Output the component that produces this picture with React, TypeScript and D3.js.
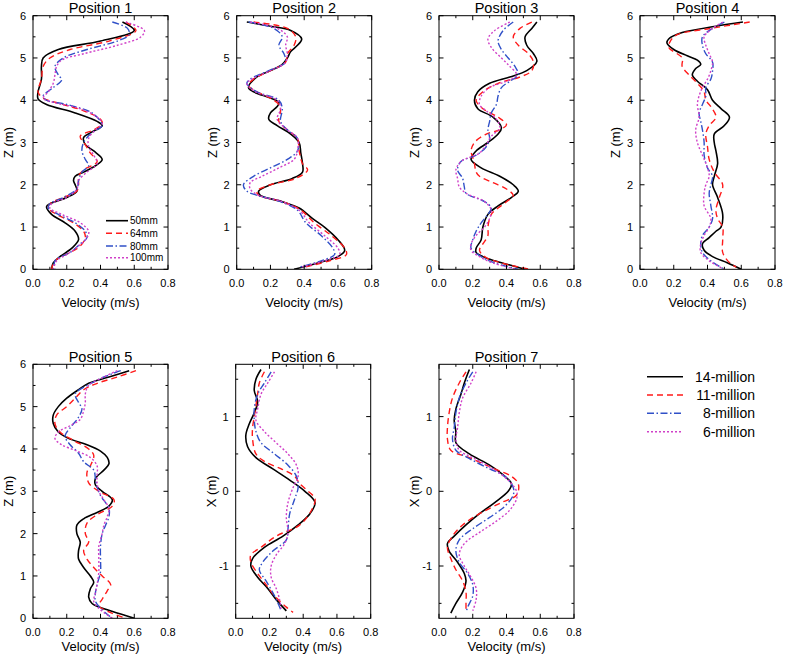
import React from "react";
import * as d3 from "d3";

// ---------- categories / labels ----------
const panelTitles = ["Position 1", "Position 2", "Position 3", "Position 4", "Position 5", "Position 6", "Position 7"];
const panelYLabels = ["Z (m)", "Z (m)", "Z (m)", "Z (m)", "Z (m)", "X (m)", "X (m)"];
const sizeLegend = ["50mm", "64mm", "80mm", "100mm"];
const meshLegend = ["14-million", "11-million", "8-million", "6-million"];
const xTicks = [0, 0.2, 0.4, 0.6, 0.8];
const xMinorTicks = [0.1, 0.3, 0.5, 0.7];
const zTicks = [0, 1, 2, 3, 4, 5, 6];
const zMinorTicks = [0.5, 1.5, 2.5, 3.5, 4.5, 5.5];
const xPosTicks = [-1, 0, 1];
const xPosMinorTicks = [-1.5, -0.5, 0.5, 1.5];

// ---------- data: [height, velocity] ----------
const p1_a = [[5.85,0.53],[5.65,0.6],[5.4,0.4],[5.2,0.15],[5.0,0.06],[4.8,0.05],[4.5,0.05],[4.2,0.03],[4.03,0.03],[3.9,0.08],[3.7,0.25],[3.5,0.38],[3.4,0.41],[3.25,0.35],[3.12,0.3],[2.95,0.31],[2.8,0.36],[2.6,0.41],[2.45,0.37],[2.3,0.3],[2.2,0.25],[2.1,0.24],[2.0,0.25],[1.85,0.26],[1.7,0.2],[1.55,0.1],[1.48,0.08],[1.3,0.11],[1.1,0.19],[0.9,0.25],[0.7,0.27],[0.5,0.23],[0.3,0.16],[0.15,0.12],[0,0.11]];
const p1_b = [[5.85,0.55],[5.65,0.61],[5.4,0.45],[5.2,0.22],[5.0,0.1],[4.8,0.06],[4.5,0.05],[4.2,0.03],[4.05,0.06],[3.9,0.18],[3.75,0.3],[3.55,0.4],[3.45,0.41],[3.3,0.36],[3.15,0.28],[2.95,0.31],[2.75,0.34],[2.55,0.38],[2.35,0.3],[2.2,0.27],[2.0,0.27],[1.85,0.26],[1.7,0.18],[1.55,0.1],[1.45,0.09],[1.3,0.14],[1.1,0.24],[0.9,0.3],[0.75,0.31],[0.55,0.28],[0.4,0.22],[0.2,0.13],[0,0.11]];
const p1_c = [[5.85,0.47],[5.7,0.56],[5.55,0.57],[5.4,0.5],[5.2,0.32],[5.0,0.18],[4.8,0.13],[4.6,0.15],[4.48,0.17],[4.3,0.12],[4.1,0.06],[4.0,0.08],[3.9,0.2],[3.7,0.35],[3.5,0.4],[3.4,0.41],[3.2,0.34],[3.0,0.3],[2.8,0.29],[2.6,0.31],[2.45,0.33],[2.3,0.29],[2.1,0.27],[1.9,0.26],[1.7,0.18],[1.55,0.1],[1.45,0.09],[1.3,0.15],[1.1,0.25],[0.9,0.31],[0.75,0.32],[0.6,0.28],[0.4,0.22],[0.2,0.13],[0,0.13]];
const p1_d = [[5.85,0.55],[5.65,0.66],[5.5,0.64],[5.3,0.5],[5.1,0.3],[4.95,0.17],[4.8,0.14],[4.6,0.13],[4.4,0.12],[4.2,0.09],[4.05,0.06],[3.95,0.12],[3.8,0.28],[3.6,0.38],[3.45,0.41],[3.3,0.37],[3.1,0.33],[2.9,0.33],[2.7,0.36],[2.5,0.38],[2.3,0.32],[2.1,0.27],[1.9,0.26],[1.7,0.2],[1.55,0.11],[1.45,0.1],[1.3,0.17],[1.1,0.28],[0.9,0.33],[0.75,0.32],[0.55,0.27],[0.35,0.2],[0.2,0.14],[0,0.12]];

const p2_a = [[5.85,0.06],[5.75,0.2],[5.65,0.32],[5.45,0.385],[5.3,0.36],[5.15,0.32],[5.0,0.3],[4.85,0.27],[4.7,0.2],[4.55,0.12],[4.3,0.07],[4.2,0.1],[4.05,0.2],[3.95,0.25],[3.85,0.24],[3.7,0.2],[3.55,0.19],[3.4,0.24],[3.2,0.32],[3.0,0.37],[2.75,0.38],[2.5,0.39],[2.3,0.39],[2.15,0.33],[2.0,0.2],[1.85,0.13],[1.75,0.14],[1.6,0.27],[1.45,0.37],[1.2,0.45],[1.0,0.52],[0.7,0.6],[0.45,0.64],[0.3,0.6],[0.15,0.48],[0,0.34]];
const p2_b = [[5.85,0.1],[5.7,0.3],[5.5,0.35],[5.3,0.34],[5.1,0.3],[4.9,0.29],[4.7,0.2],[4.5,0.1],[4.35,0.07],[4.2,0.12],[4.05,0.2],[3.9,0.25],[3.75,0.26],[3.5,0.25],[3.3,0.3],[3.1,0.36],[2.8,0.37],[2.5,0.39],[2.35,0.42],[2.15,0.35],[2.0,0.2],[1.85,0.12],[1.75,0.13],[1.6,0.27],[1.4,0.38],[1.1,0.46],[0.8,0.56],[0.5,0.64],[0.35,0.65],[0.2,0.55],[0.05,0.4]];
const p2_c = [[5.85,0.07],[5.7,0.22],[5.5,0.27],[5.3,0.25],[5.1,0.28],[4.9,0.29],[4.7,0.19],[4.5,0.08],[4.4,0.06],[4.2,0.12],[4.0,0.25],[3.8,0.27],[3.5,0.26],[3.3,0.3],[3.1,0.36],[2.8,0.36],[2.6,0.3],[2.4,0.2],[2.2,0.1],[2.0,0.04],[1.85,0.06],[1.75,0.12],[1.6,0.26],[1.4,0.36],[1.1,0.41],[0.8,0.5],[0.5,0.57],[0.35,0.58],[0.2,0.5],[0.05,0.37]];
const p2_d = [[5.85,0.08],[5.7,0.24],[5.5,0.3],[5.3,0.29],[5.1,0.3],[4.9,0.29],[4.7,0.2],[4.5,0.09],[4.4,0.06],[4.2,0.11],[4.0,0.24],[3.8,0.26],[3.55,0.24],[3.3,0.3],[3.1,0.36],[2.8,0.36],[2.6,0.34],[2.4,0.25],[2.2,0.15],[2.05,0.08],[1.9,0.08],[1.75,0.13],[1.6,0.27],[1.4,0.37],[1.1,0.43],[0.8,0.52],[0.5,0.6],[0.35,0.61],[0.2,0.52],[0.05,0.38]];

const p3_a = [[5.85,0.58],[5.7,0.55],[5.5,0.51],[5.3,0.52],[5.1,0.56],[4.92,0.58],[4.7,0.52],[4.55,0.42],[4.4,0.3],[4.2,0.23],[4.0,0.21],[3.8,0.23],[3.6,0.32],[3.35,0.37],[3.2,0.35],[3.0,0.29],[2.8,0.22],[2.6,0.19],[2.4,0.25],[2.2,0.36],[2.0,0.44],[1.85,0.47],[1.7,0.43],[1.5,0.35],[1.3,0.29],[1.0,0.26],[0.7,0.25],[0.5,0.22],[0.4,0.22],[0.3,0.26],[0.2,0.33],[0.1,0.42],[0,0.51]];
const p3_b = [[5.85,0.55],[5.7,0.48],[5.5,0.44],[5.3,0.47],[5.1,0.53],[4.9,0.56],[4.7,0.55],[4.55,0.48],[4.4,0.35],[4.2,0.26],[4.0,0.22],[3.8,0.26],[3.6,0.35],[3.42,0.4],[3.3,0.36],[3.2,0.28],[3.0,0.21],[2.8,0.19],[2.65,0.2],[2.5,0.21],[2.3,0.22],[2.2,0.24],[2.05,0.32],[1.9,0.4],[1.75,0.44],[1.6,0.4],[1.45,0.35],[1.3,0.31],[1.0,0.29],[0.8,0.29],[0.6,0.26],[0.45,0.24],[0.3,0.27],[0.15,0.37],[0,0.54]];
const p3_c = [[5.85,0.44],[5.65,0.38],[5.4,0.35],[5.2,0.37],[5.0,0.41],[4.8,0.45],[4.6,0.47],[4.45,0.42],[4.3,0.37],[4.1,0.35],[3.9,0.34],[3.7,0.31],[3.5,0.3],[3.3,0.29],[3.1,0.3],[2.9,0.28],[2.7,0.22],[2.55,0.13],[2.35,0.11],[2.15,0.14],[1.95,0.15],[1.8,0.16],[1.6,0.27],[1.45,0.31],[1.3,0.29],[1.1,0.25],[0.9,0.22],[0.7,0.2],[0.5,0.19],[0.3,0.25],[0.15,0.33],[0,0.47]];
const p3_d = [[5.85,0.42],[5.65,0.33],[5.45,0.29],[5.25,0.31],[5.0,0.37],[4.8,0.42],[4.6,0.46],[4.45,0.4],[4.3,0.3],[4.1,0.25],[3.9,0.24],[3.75,0.28],[3.55,0.34],[3.35,0.36],[3.15,0.31],[2.95,0.28],[2.75,0.24],[2.55,0.13],[2.35,0.1],[2.15,0.11],[1.95,0.12],[1.8,0.16],[1.6,0.27],[1.4,0.31],[1.2,0.3],[1.0,0.27],[0.8,0.22],[0.6,0.19],[0.45,0.19],[0.3,0.24],[0.15,0.32],[0,0.46]];

const p4_a = [[5.85,0.61],[5.75,0.45],[5.6,0.25],[5.45,0.17],[5.35,0.16],[5.2,0.2],[5.05,0.28],[4.95,0.34],[4.85,0.36],[4.75,0.33],[4.6,0.31],[4.45,0.34],[4.25,0.4],[4.0,0.43],[3.8,0.48],[3.6,0.53],[3.4,0.5],[3.2,0.44],[3.0,0.44],[2.8,0.45],[2.5,0.46],[2.2,0.44],[2.0,0.43],[1.7,0.46],[1.3,0.49],[1.0,0.48],[0.9,0.45],[0.75,0.41],[0.6,0.37],[0.45,0.38],[0.3,0.43],[0.15,0.52],[0,0.6]];
const p4_b = [[5.85,0.65],[5.7,0.42],[5.55,0.22],[5.4,0.18],[5.25,0.17],[5.0,0.25],[4.8,0.25],[4.6,0.29],[4.4,0.34],[4.2,0.38],[4.0,0.39],[3.85,0.42],[3.6,0.45],[3.4,0.41],[3.2,0.39],[2.9,0.4],[2.6,0.41],[2.3,0.44],[2.0,0.49],[1.7,0.47],[1.4,0.45],[1.2,0.46],[1.0,0.49],[0.7,0.49],[0.4,0.49],[0.2,0.52],[0.05,0.57]];
const p4_c = [[5.85,0.5],[5.7,0.43],[5.5,0.37],[5.3,0.37],[5.1,0.39],[4.9,0.43],[4.7,0.43],[4.5,0.42],[4.3,0.39],[4.1,0.39],[3.9,0.37],[3.7,0.35],[3.5,0.36],[3.3,0.37],[3.0,0.38],[2.7,0.38],[2.4,0.4],[2.2,0.43],[2.0,0.42],[1.8,0.41],[1.5,0.42],[1.2,0.43],[1.0,0.41],[0.8,0.37],[0.6,0.36],[0.4,0.37],[0.2,0.42],[0,0.5]];
const p4_d = [[5.85,0.49],[5.7,0.43],[5.5,0.38],[5.3,0.39],[5.1,0.41],[4.9,0.43],[4.7,0.42],[4.5,0.4],[4.3,0.37],[4.1,0.35],[3.9,0.34],[3.6,0.35],[3.3,0.33],[3.0,0.34],[2.7,0.37],[2.4,0.4],[2.2,0.41],[2.0,0.39],[1.8,0.38],[1.5,0.38],[1.2,0.42],[1.0,0.41],[0.8,0.38],[0.6,0.36],[0.4,0.36],[0.2,0.41],[0,0.5]];

const p5_a = [[5.85,0.57],[5.7,0.45],[5.55,0.33],[5.4,0.27],[5.2,0.2],[5.0,0.15],[4.8,0.12],[4.6,0.12],[4.4,0.15],[4.25,0.21],[4.1,0.32],[3.95,0.4],[3.8,0.44],[3.65,0.45],[3.5,0.42],[3.3,0.37],[3.15,0.37],[3.0,0.41],[2.8,0.47],[2.65,0.45],[2.5,0.38],[2.35,0.3],[2.2,0.26],[2.0,0.26],[1.8,0.28],[1.6,0.27],[1.4,0.27],[1.2,0.3],[1.0,0.34],[0.85,0.36],[0.7,0.34],[0.5,0.33],[0.35,0.35],[0.2,0.44],[0.1,0.52],[0,0.6]];
const p5_b = [[5.85,0.61],[5.7,0.5],[5.55,0.38],[5.4,0.3],[5.2,0.25],[5.0,0.2],[4.8,0.14],[4.6,0.13],[4.4,0.16],[4.2,0.24],[4.0,0.33],[3.85,0.36],[3.6,0.34],[3.45,0.32],[3.2,0.33],[3.0,0.39],[2.8,0.48],[2.65,0.47],[2.45,0.38],[2.25,0.32],[2.0,0.31],[1.8,0.33],[1.6,0.3],[1.4,0.32],[1.2,0.36],[1.0,0.41],[0.8,0.46],[0.65,0.44],[0.45,0.41],[0.3,0.39],[0.15,0.45],[0,0.55]];
const p5_c = [[5.85,0.52],[5.7,0.42],[5.5,0.32],[5.3,0.25],[5.1,0.27],[4.95,0.29],[4.75,0.27],[4.5,0.22],[4.3,0.19],[4.1,0.22],[3.9,0.27],[3.7,0.3],[3.5,0.36],[3.3,0.37],[3.1,0.38],[2.9,0.4],[2.6,0.45],[2.4,0.45],[2.2,0.43],[2.0,0.41],[1.7,0.4],[1.4,0.4],[1.1,0.4],[0.8,0.38],[0.6,0.37],[0.4,0.37],[0.2,0.41],[0,0.47]];
const p5_d = [[5.85,0.5],[5.7,0.42],[5.5,0.33],[5.3,0.31],[5.1,0.31],[4.9,0.3],[4.7,0.28],[4.55,0.22],[4.4,0.15],[4.25,0.13],[4.1,0.17],[3.95,0.26],[3.8,0.34],[3.6,0.38],[3.4,0.38],[3.2,0.38],[3.0,0.39],[2.8,0.42],[2.6,0.45],[2.4,0.44],[2.2,0.42],[2.0,0.41],[1.7,0.39],[1.4,0.39],[1.1,0.39],[0.8,0.38],[0.6,0.37],[0.4,0.36],[0.2,0.4],[0,0.47]];

const p6_a = [[1.63,0.15],[1.5,0.12],[1.35,0.11],[1.2,0.13],[1.05,0.11],[0.9,0.08],[0.75,0.06],[0.6,0.07],[0.45,0.12],[0.3,0.22],[0.15,0.32],[0,0.41],[-0.15,0.47],[-0.3,0.44],[-0.45,0.37],[-0.6,0.28],[-0.75,0.17],[-0.9,0.1],[-1.0,0.09],[-1.15,0.13],[-1.3,0.19],[-1.45,0.24],[-1.6,0.3]];
const p6_b = [[1.6,0.17],[1.45,0.14],[1.3,0.13],[1.15,0.12],[1.0,0.11],[0.85,0.1],[0.7,0.1],[0.5,0.12],[0.4,0.17],[0.3,0.27],[0.2,0.35],[0.1,0.38],[0,0.43],[-0.1,0.47],[-0.25,0.45],[-0.45,0.38],[-0.6,0.24],[-0.75,0.15],[-0.85,0.09],[-0.95,0.09],[-1.1,0.13],[-1.25,0.18],[-1.4,0.23],[-1.55,0.3],[-1.62,0.34]];
const p6_c = [[1.6,0.21],[1.45,0.17],[1.3,0.13],[1.1,0.11],[0.95,0.11],[0.8,0.12],[0.65,0.15],[0.5,0.23],[0.35,0.31],[0.2,0.36],[0.05,0.37],[-0.1,0.35],[-0.3,0.32],[-0.5,0.31],[-0.65,0.3],[-0.8,0.22],[-0.95,0.16],[-1.05,0.14],[-1.2,0.18],[-1.4,0.23],[-1.6,0.27]];
const p6_d = [[1.6,0.23],[1.45,0.19],[1.3,0.15],[1.1,0.13],[0.95,0.12],[0.8,0.17],[0.65,0.24],[0.5,0.31],[0.35,0.36],[0.2,0.37],[0.05,0.34],[-0.15,0.31],[-0.35,0.3],[-0.55,0.31],[-0.7,0.29],[-0.85,0.24],[-1.0,0.21],[-1.15,0.21],[-1.3,0.24],[-1.45,0.26],[-1.6,0.27]];

const p7_a = [[1.63,0.18],[1.45,0.15],[1.3,0.13],[1.1,0.1],[0.95,0.09],[0.8,0.1],[0.65,0.1],[0.5,0.18],[0.35,0.3],[0.2,0.39],[0.1,0.43],[0,0.41],[-0.15,0.33],[-0.3,0.24],[-0.45,0.16],[-0.6,0.09],[-0.7,0.05],[-0.8,0.06],[-0.95,0.11],[-1.1,0.15],[-1.2,0.16],[-1.35,0.14],[-1.5,0.1],[-1.63,0.07]];
const p7_b = [[1.6,0.16],[1.45,0.12],[1.25,0.08],[1.05,0.06],[0.85,0.05],[0.7,0.05],[0.55,0.07],[0.45,0.18],[0.3,0.33],[0.2,0.43],[0.1,0.47],[-0.05,0.46],[-0.15,0.37],[-0.3,0.24],[-0.45,0.14],[-0.6,0.08],[-0.75,0.05],[-0.9,0.07],[-1.05,0.1],[-1.2,0.14],[-1.35,0.16],[-1.5,0.16],[-1.62,0.16]];
const p7_c = [[1.6,0.2],[1.45,0.16],[1.25,0.12],[1.05,0.1],[0.85,0.09],[0.7,0.08],[0.55,0.1],[0.45,0.17],[0.3,0.3],[0.2,0.39],[0.05,0.44],[-0.05,0.44],[-0.2,0.39],[-0.35,0.3],[-0.5,0.2],[-0.65,0.12],[-0.8,0.1],[-0.95,0.12],[-1.1,0.17],[-1.25,0.2],[-1.4,0.2],[-1.55,0.17],[-1.62,0.16]];
const p7_d = [[1.6,0.22],[1.45,0.19],[1.25,0.14],[1.05,0.12],[0.85,0.11],[0.7,0.1],[0.55,0.12],[0.45,0.2],[0.3,0.32],[0.15,0.41],[0,0.46],[-0.1,0.46],[-0.25,0.42],[-0.4,0.34],[-0.55,0.24],[-0.7,0.15],[-0.85,0.12],[-1.0,0.15],[-1.15,0.19],[-1.3,0.22],[-1.45,0.22],[-1.6,0.2]];

const panelSeries = [
  [p1_a, p1_b, p1_c, p1_d],
  [p2_a, p2_b, p2_c, p2_d],
  [p3_a, p3_b, p3_c, p3_d],
  [p4_a, p4_b, p4_c, p4_d],
  [p5_a, p5_b, p5_c, p5_d],
  [p6_a, p6_b, p6_c, p6_d],
  [p7_a, p7_b, p7_c, p7_d],
];

// ---------- styles ----------
const seriesStyles = [
  { stroke: "#000000", dash: "", width: 1.6 },
  { stroke: "#ff1a1a", dash: "6,4", width: 1.4 },
  { stroke: "#3050c8", dash: "7,2.5,1.5,2.5", width: 1.4 },
  { stroke: "#d040c8", dash: "2,2", width: 1.4 },
];

const W = 787;
const H = 660;
const PW = 135;
const layout = [
  { left: 33, top: 15.7, bottom: 269.3, y: [0, 6], axisY: 307 },
  { left: 236.7, top: 15.7, bottom: 269.3, y: [0, 6], axisY: 307 },
  { left: 439, top: 15.7, bottom: 269.3, y: [0, 6], axisY: 307 },
  { left: 640, top: 15.7, bottom: 269.3, y: [0, 6], axisY: 307 },
  { left: 33, top: 364.3, bottom: 618.3, y: [0, 6], axisY: 651 },
  { left: 235.7, top: 364.3, bottom: 618.3, y: [-1.7, 1.7], axisY: 651 },
  { left: 439, top: 364.3, bottom: 618.3, y: [-1.7, 1.7], axisY: 651 },
];
const FONT = "'Liberation Sans', Arial, Helvetica, sans-serif";

function Panel({ idx }: { idx: number }) {
  const L = layout[idx];
  const x = d3.scaleLinear().domain([0, 0.8]).range([L.left, L.left + PW]);
  const y = d3.scaleLinear().domain(L.y).range([L.bottom, L.top]);
  const isZ = L.y[0] === 0;
  const yMaj = isZ ? zTicks : xPosTicks;
  const yMin = isZ ? zMinorTicks : xPosMinorTicks;
  const line = d3
    .line<number[]>()
    .x((d) => x(d[1]))
    .y((d) => y(d[0]))
    .curve(d3.curveCatmullRom.alpha(0.5));
  const clipId = `clip${idx}`;
  const R = L.left + PW;
  const maj = 4.5;
  const mnr = 2.5;
  return (
    <g>
      <defs>
        <clipPath id={clipId}>
          <rect x={L.left} y={L.top} width={PW} height={L.bottom - L.top} />
        </clipPath>
      </defs>
      <g clipPath={`url(#${clipId})`}>
        {panelSeries[idx].map((s, i) => (
          <path
            key={i}
            d={line(s as number[][]) || ""}
            fill="none"
            stroke={seriesStyles[i].stroke}
            strokeWidth={seriesStyles[i].width}
            strokeDasharray={seriesStyles[i].dash}
          />
        ))}
      </g>
      <rect x={L.left} y={L.top} width={PW} height={L.bottom - L.top} fill="none" stroke="#000" strokeWidth={1} />
      {xTicks.map((t) => (
        <g key={"xt" + t}>
          <line x1={x(t)} x2={x(t)} y1={L.bottom} y2={L.bottom - maj} stroke="#000" />
          <line x1={x(t)} x2={x(t)} y1={L.top} y2={L.top + maj} stroke="#000" />
          <text x={x(t)} y={L.bottom + 18} textAnchor="middle" fontSize={11} fontFamily={FONT}>
            {d3.format(".1f")(t)}
          </text>
        </g>
      ))}
      {xMinorTicks.map((t) => (
        <g key={"xm" + t}>
          <line x1={x(t)} x2={x(t)} y1={L.bottom} y2={L.bottom - mnr} stroke="#000" />
          <line x1={x(t)} x2={x(t)} y1={L.top} y2={L.top + mnr} stroke="#000" />
        </g>
      ))}
      {yMaj.map((t) => (
        <g key={"yt" + t}>
          <line x1={L.left} x2={L.left + maj} y1={y(t)} y2={y(t)} stroke="#000" />
          <line x1={R} x2={R - maj} y1={y(t)} y2={y(t)} stroke="#000" />
          <text x={L.left - 7} y={y(t) + 4} textAnchor="end" fontSize={11} fontFamily={FONT}>
            {String(t)}
          </text>
        </g>
      ))}
      {yMin.map((t) => (
        <g key={"ym" + t}>
          <line x1={L.left} x2={L.left + mnr} y1={y(t)} y2={y(t)} stroke="#000" />
          <line x1={R} x2={R - mnr} y1={y(t)} y2={y(t)} stroke="#000" />
        </g>
      ))}
      <text x={L.left + PW / 2} y={L.top - 2.5} textAnchor="middle" fontSize={14.5} fontFamily={FONT}>
        {panelTitles[idx]}
      </text>
      <text x={L.left + PW / 2} y={L.axisY} textAnchor="middle" fontSize={13} fontFamily={FONT}>
        Velocity (m/s)
      </text>
      <text
        transform={`translate(${L.left - 20},${(L.top + L.bottom) / 2}) rotate(-90)`}
        textAnchor="middle"
        fontSize={13}
        fontFamily={FONT}
      >
        {panelYLabels[idx]}
      </text>
    </g>
  );
}

export default function App() {
  const legY1 = [220.7, 233.3, 246, 257.7];
  const legY2 = [376.7, 395, 413.3, 431.7];
  return (
    <svg width={W} height={H} style={{ display: "block", position: "absolute", left: 0, top: 0, background: "#fff" }}>
      <rect x={0} y={0} width={W} height={H} fill="#fff" />
      {layout.map((_, i) => (
        <Panel key={i} idx={i} />
      ))}
      {sizeLegend.map((name, i) => (
        <g key={name}>
          <line x1={106} x2={128} y1={legY1[i]} y2={legY1[i]} stroke={seriesStyles[i].stroke} strokeWidth={seriesStyles[i].width} strokeDasharray={seriesStyles[i].dash} />
          <text x={130} y={legY1[i] + 3.5} fontSize={10} fontFamily={FONT}>
            {name}
          </text>
        </g>
      ))}
      {meshLegend.map((name, i) => (
        <g key={name}>
          <line x1={647} x2={683} y1={legY2[i]} y2={legY2[i]} stroke={seriesStyles[i].stroke} strokeWidth={seriesStyles[i].width} strokeDasharray={seriesStyles[i].dash} />
          <text x={755} y={legY2[i] + 5} textAnchor="end" fontSize={14} fontFamily={FONT}>
            {name}
          </text>
        </g>
      ))}
    </svg>
  );
}
